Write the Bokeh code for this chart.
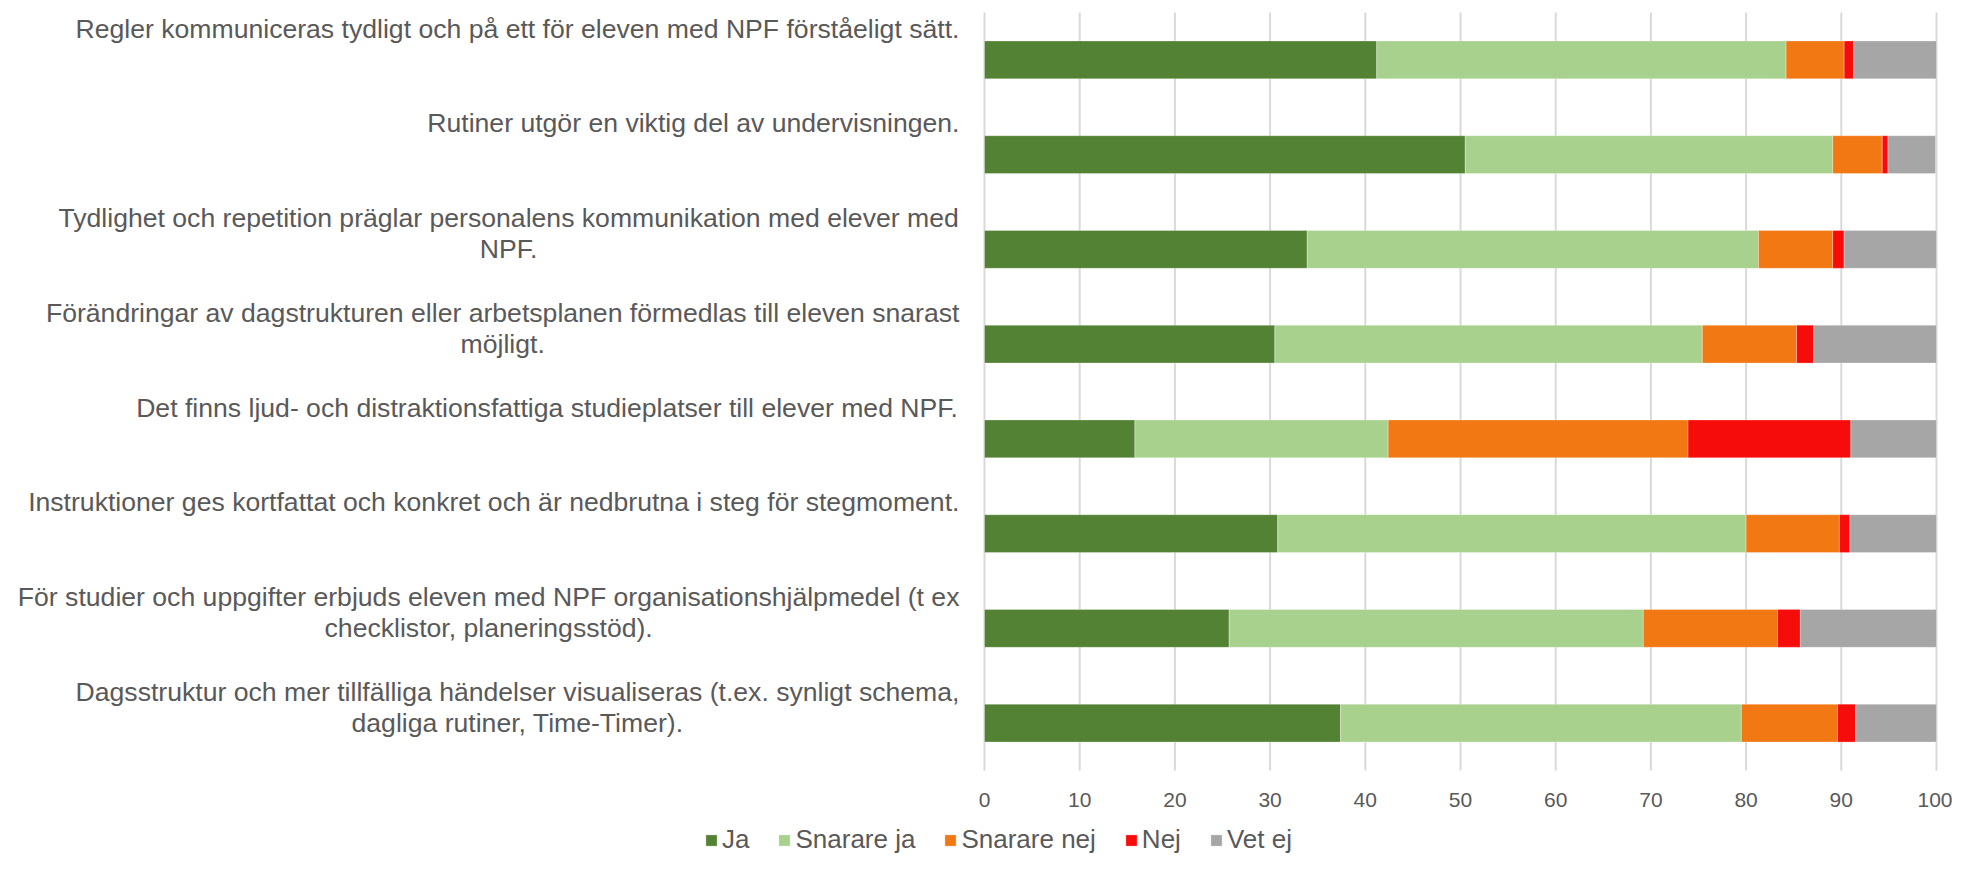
from bokeh.plotting import figure
from bokeh.models import (ColumnDataSource, Range1d, FixedTicker, Legend,
                          LegendItem)
from bokeh.core.properties import value
from bokeh.embed import file_html
from bokeh.resources import INLINE

categories = [
    "Regler kommuniceras tydligt och på ett för eleven med NPF förståeligt sätt.",
    "Rutiner utgör en viktig del av undervisningen.",
    "Tydlighet och repetition präglar personalens kommunikation med elever med\nNPF.",
    "Förändringar av dagstrukturen eller arbetsplanen förmedlas till eleven snarast\nmöjligt.",
    "Det finns ljud- och distraktionsfattiga studieplatser till elever med NPF.",
    "Instruktioner ges kortfattat och konkret och är nedbrutna i steg för stegmoment.",
    "För studier och uppgifter erbjuds eleven med NPF organisationshjälpmedel (t ex\nchecklistor, planeringsstöd).",
    "Dagsstruktur och mer tillfälliga händelser visualiseras (t.ex. synligt schema,\ndagliga rutiner, Time-Timer).",
]
series = ["Ja", "Snarare ja", "Snarare nej", "Nej", "Vet ej"]
ja = [41.2, 50.5, 33.9, 30.5, 15.8, 30.8, 25.7, 37.4]
snarare_ja = [43.0, 38.6, 47.4, 44.9, 26.6, 49.2, 43.5, 42.1]
snarare_nej = [6.1, 5.2, 7.8, 9.9, 31.5, 9.8, 14.1, 10.1]
nej = [1.0, 0.6, 1.2, 1.8, 17.1, 1.1, 2.4, 1.9]
vet_ej = [8.7, 5.0, 9.7, 12.9, 9.0, 9.1, 14.3, 8.5]
colors = ["#548235", "#A9D18E", "#F27814", "#F70C0C", "#A6A6A6"]
x_ticks = [0, 10, 20, 30, 40, 50, 60, 70, 80, 90, 100]

TEXT = "#595959"
GRID = "#D9D9D9"
FONT = "Liberation Sans"
LABEL_PX = 26.6

# layout (canvas pixels)
W_FIG, H_FIG = 1952, 853
X0_PX, X100_PX = 984, 1936          # where 0 and 100 sit
Y_TOP_PX, Y_BOT_PX = 12, 770        # top / bottom of the category bands

# Arial / Liberation Sans advance widths (1/1000 em) to centre wrapped lines
W = {' ': 278, '!': 278, '(': 333, ')': 333, ',': 278, '-': 333, '.': 278,
     'A': 667, 'B': 667, 'C': 722, 'D': 722, 'E': 667, 'F': 611, 'G': 778, 'H': 722,
     'I': 278, 'J': 500, 'K': 667, 'L': 556, 'M': 833, 'N': 722, 'O': 778, 'P': 667,
     'Q': 778, 'R': 722, 'S': 667, 'T': 611, 'U': 722, 'V': 667, 'W': 944, 'X': 667,
     'Y': 667, 'Z': 611, 'Ö': 778, 'Ä': 667, 'Å': 667,
     'a': 556, 'b': 556, 'c': 500, 'd': 556, 'e': 556, 'f': 278, 'g': 556, 'h': 556,
     'i': 222, 'j': 222, 'k': 500, 'l': 222, 'm': 833, 'n': 556, 'o': 556, 'p': 556,
     'q': 556, 'r': 333, 's': 500, 't': 278, 'u': 556, 'v': 500, 'w': 722, 'x': 500,
     'y': 500, 'z': 500, 'å': 556, 'ä': 556, 'ö': 556}


def text_width(s, px):
    return sum(W.get(c, 556) for c in s) * px / 1000.0


n = len(categories)
ypos = [n - i - 0.5 for i in range(n)]
source = ColumnDataSource(data={
    "y": ypos,
    "Ja": ja, "Snarare ja": snarare_ja, "Snarare nej": snarare_nej,
    "Nej": nej, "Vet ej": vet_ej,
})

# ranges chosen so that the frame is the whole canvas
xpx = (X100_PX - X0_PX) / 100.0
ypx = (Y_BOT_PX - Y_TOP_PX) / float(n)
x_range = Range1d(-X0_PX / xpx, 100 + (W_FIG - X100_PX) / xpx)
y_range = Range1d(-(H_FIG - Y_BOT_PX) / ypx, n + Y_TOP_PX / ypx)

p = figure(width=W_FIG, height=H_FIG, output_backend="svg", toolbar_location=None,
           x_range=x_range, y_range=y_range,
           min_border_left=0, min_border_right=0, min_border_top=0,
           min_border_bottom=0)
p.outline_line_color = None
p.background_fill_color = "white"
p.border_fill_color = "white"
p.xgrid.visible = False
p.ygrid.visible = False
p.yaxis.visible = False

# vertical gridlines spanning the category bands only
p.segment(x0=x_ticks, y0=[0] * len(x_ticks), x1=x_ticks, y1=[n] * len(x_ticks),
          line_color=GRID, line_width=2)

renderers = p.hbar_stack(series, y="y", height=0.4, color=colors, source=source,
                         line_color="white", line_width=0.6, line_alpha=0.5)

ax = p.xaxis[0]
ax.fixed_location = 0
ax.ticker = FixedTicker(ticks=x_ticks)
ax.axis_line_color = None
ax.major_tick_line_color = None
ax.minor_tick_line_color = None
ax.major_tick_out = 0
ax.major_tick_in = 0
ax.major_label_standoff = 22
ax.major_label_text_font = FONT
ax.major_label_text_font_size = "21px"
ax.major_label_text_color = TEXT

# category labels: block right-aligned 25px left of 0, lines centred,
# top-aligned in each category band
lx, ly, lxo, lyo, lt = [], [], [], [], []
for i, cat in enumerate(categories):
    lines = cat.split("\n")
    maxw = max(text_width(l, LABEL_PX) for l in lines)
    for k, line in enumerate(lines):
        lx.append(0)
        ly.append(n - i)
        lxo.append(-25 - maxw / 2)
        lyo.append(16 + 31 * k)
        lt.append(line)
lab_src = ColumnDataSource(data={"x": lx, "y": ly, "xo": lxo, "yo": lyo, "t": lt})
p.text(x="x", y="y", text="t", x_offset="xo", y_offset="yo", source=lab_src,
       text_align="center", text_baseline="middle",
       text_font=value(FONT), text_font_size=f"{LABEL_PX}px", text_color=TEXT)

legend = Legend(items=[LegendItem(label=s, renderers=[r])
                       for s, r in zip(series, renderers)])
legend.orientation = "horizontal"
legend.location = (704, -2)
legend.padding = 0
legend.margin = 0
legend.spacing = 28
legend.label_standoff = 4
legend.glyph_width = 14
legend.glyph_height = 14
legend.label_text_font = FONT
legend.label_text_font_size = "26px"
legend.label_text_color = TEXT
legend.border_line_color = None
legend.background_fill_alpha = 0
p.add_layout(legend)

open("out.html", "w").write(file_html(p, INLINE))
